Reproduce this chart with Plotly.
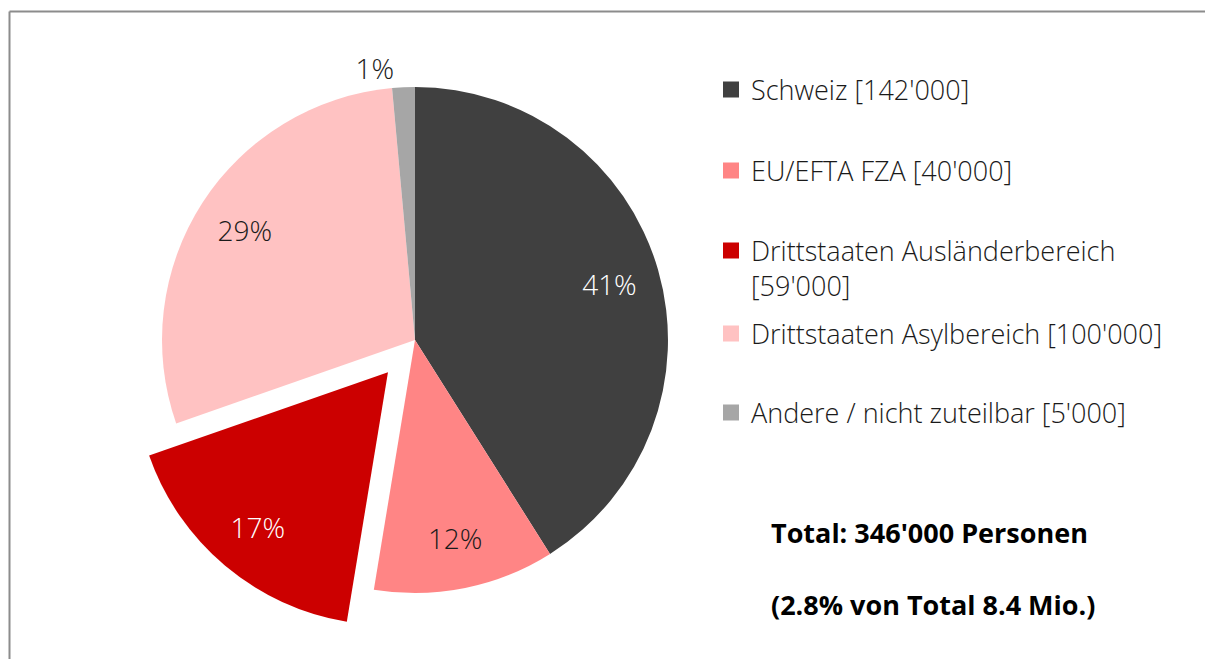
import plotly.graph_objects as go

# ---- data ----
categories = ["Schweiz", "EU/EFTA FZA", "Drittstaaten Ausländerbereich",
              "Drittstaaten Asylbereich", "Andere / nicht zuteilbar"]
values = [142000, 40000, 59000, 100000, 5000]
legend_labels = ["Schweiz [142'000]", "EU/EFTA FZA [40'000]",
                 "Drittstaaten Ausländerbereich<br>[59'000]",
                 "Drittstaaten Asylbereich [100'000]",
                 "Andere / nicht zuteilbar [5'000]"]
pulls = [0, 0, 0.166, 0, 0]
total_lines = ["Total: 346'000 Personen", "(2.8% von Total 8.4 Mio.)"]

# ---- styles ----
colors = ["#404040", "#FF8585", "#CC0000", "#FFC2C2", "#A6A6A6"]
text_colors = ["white", "#1a1a1a", "white", "#1a1a1a", "#1a1a1a"]
text_pos = ["inside", "inside", "inside", "inside", "outside"]
FONT = "Open Sans"
W, H = 1205, 659
dom = dict(x=[0.0996, 0.5892], y=[0.0364, 0.9317])

fig = go.Figure()
# filled slices
fig.add_trace(go.Pie(
    labels=categories, values=values, sort=False, direction="clockwise",
    rotation=0, pull=pulls,
    marker=dict(colors=colors, line=dict(width=0)),
    textinfo="none", domain=dom, showlegend=False,
    hoverinfo="label+value+percent",
))
# transparent ring on top that carries the percentage labels (placed near the rim)
fig.add_trace(go.Pie(
    labels=categories, values=values, sort=False, direction="clockwise",
    rotation=0, pull=pulls, hole=0.6,
    marker=dict(colors=["rgba(0,0,0,0)"] * len(values), line=dict(width=0)),
    texttemplate="%{percent:.0%}", textposition=text_pos,
    insidetextorientation="horizontal",
    textfont=dict(family=FONT, size=28, color=text_colors, weight=300),
    domain=dom, showlegend=False, hoverinfo="skip",
))

# legend entries (one legend each, to reproduce spacing)
legend_y_px = [90, 171, 268.5, 334, 413]
for i, (lab, col) in enumerate(zip(legend_labels, colors)):
    key = "legend" if i == 0 else f"legend{i+1}"
    fig.add_trace(go.Scatter(
        x=[None], y=[None], mode="markers", name=lab,
        marker=dict(symbol="square", size=16, color=col),
        legend=key, showlegend=True, hoverinfo="skip"))
    fig.update_layout({key: dict(
        x=711 / W, xanchor="left", y=1 - legend_y_px[i] / H, yanchor="middle",
        font=dict(family=FONT, size=27, color="#1a1a1a", weight=300),
        bgcolor="rgba(0,0,0,0)", valign="top", itemsizing="trace",
        traceorder="normal")})

for txt, ypx in zip(total_lines, [532, 604]):
    fig.add_annotation(text="<b>" + txt + "</b>", xref="paper", yref="paper",
                       x=769 / W, xanchor="left", y=1 - ypx / H, yanchor="middle",
                       showarrow=False,
                       font=dict(family=FONT, size=27, color="black"))

# frame (only the top and left edges are inside the picture)
fig.add_shape(type="line", xref="paper", yref="paper",
              x0=9.5 / W, x1=1.2, y0=1 - 11.5 / H, y1=1 - 11.5 / H,
              line=dict(color="#8c8c8c", width=2))
fig.add_shape(type="line", xref="paper", yref="paper",
              x0=9.5 / W, x1=9.5 / W, y0=-0.2, y1=1 - 11.5 / H,
              line=dict(color="#8c8c8c", width=2))

fig.update_layout(
    width=W, height=H, margin=dict(l=0, r=0, t=0, b=0, autoexpand=False),
    paper_bgcolor="white", plot_bgcolor="white",
    xaxis=dict(visible=False), yaxis=dict(visible=False),
    font=dict(family=FONT),
)
fig.write_html("out.html", config={"displayModeBar": False},
               post_script="document.body.style.margin='0px';"
                           "document.body.style.overflow='hidden';")
